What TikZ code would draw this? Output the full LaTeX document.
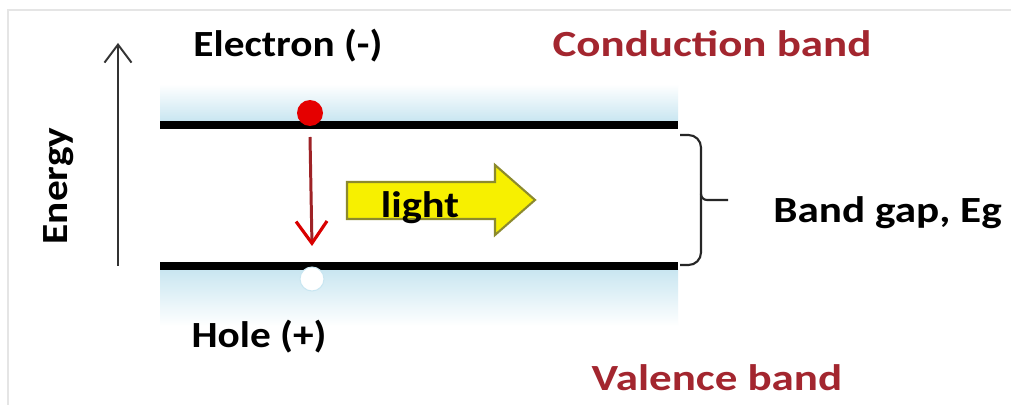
\documentclass[tikz,border=0pt]{standalone}
\usepackage{fontspec}
\setmainfont{Carlito}
\usetikzlibrary{calc,arrows.meta}
\definecolor{bandred}{HTML}{A3262F}
\definecolor{glowblue}{HTML}{C9E6F1}
\definecolor{lightyellow}{HTML}{F7F000}
\definecolor{lightedge}{HTML}{8C8A2E}
\definecolor{dropred}{HTML}{9E2226}
\tikzset{
  bandtext/.style={font=\bfseries\fontsize{21}{25}\selectfont, inner sep=0pt, anchor=base},
  bandline/.style={line width=5pt, black},
  dropline/.style={line width=1.7pt, dropred, -{Straight Barb[length=4.4mm, width=6.2mm, line width=1.8pt, color=red!85!black]}},
  energyline/.style={line width=1.1pt, black!80, -{Straight Barb[length=3.6mm, width=5.4mm, line width=1.1pt]}},
  braceline/.style={line width=1.2pt, black!85},
}

\begin{document}
\begin{tikzpicture}[x=0.02cm, y=-0.02cm]
			%%%%% START %%%%%
			\useasboundingbox (0, 0) rectangle (1011, 405);
			\fill[white] (0, 0) rectangle (1011, 405);
			\draw[black!10, line width=0.8pt] (8, 405) -- (8, 10) -- (1011, 10);
			
			% glow of the two bands
			\shade[top color=white, bottom color=glowblue] (160, 84) rectangle (678, 121);
			\shade[top color=glowblue, bottom color=white] (160, 270) rectangle (678, 326);
			
			% the two bands
			\coordinate (cbL) at (160, 125);
			\coordinate (cbR) at (678, 125);
			\coordinate (vbL) at (160, 266);
			\coordinate (vbR) at (678, 266);
			\draw[bandline] (cbL) -- (cbR);
			\draw[bandline] (vbL) -- (vbR);
			
			% energy axis
			\coordinate (eLow) at (118, 266);
			\coordinate (eHigh) at (118, 43);
			\draw[energyline] (eLow) -- (eHigh);
			\node[bandtext, rotate=90, xscale=1.12] (energy) at (67, 186) {Energy};
			
			% electron and hole
			\fill[red!90!black] (310, 113) circle [radius=0.26cm];
			\coordinate (electron) at (310, 113);
			\filldraw[fill=white, draw=glowblue, line width=0.6pt] (312, 279) circle [radius=0.24cm];
			\coordinate (hole) at (312, 279);
			\draw[dropline] ($(electron)+(0, 24)$) -- ($(hole)+(0, -33)$);
			
			% light
			\draw[fill=lightyellow, draw=lightedge, line width=1.2pt]
				(347, 182) -- (495, 182) -- (495, 165) -- (535, 200) -- (495, 235) -- (495, 219) -- (347, 219) -- cycle;
			\node[bandtext, xscale=1.15] (light) at (420, 218) {light};
			
			% band gap brace
			\coordinate (gapTop) at (680, 135);
			\coordinate (gapMid) at (701, 200);
			\coordinate (gapBot) at (680, 265);
			\coordinate (gapTip) at (728, 200);
			\draw[braceline, rounded corners=2.5mm] (gapTop) -- (701, 135) -- (gapMid) -- (701, 265) -- (gapBot);
			\draw[braceline, rounded corners=1.2mm] (701, 194) -- (gapMid) -- (gapTip);
			\node[bandtext, anchor=base west, xscale=1.17] (gap) at (773, 223) {Band gap, Eg};
			
			% labels
			\node[bandtext, xscale=1.12] (elab) at (288, 57) {Electron (-)};
			\node[bandtext, xscale=1.12] (hlab) at (259, 347) {Hole (+)};
			\node[bandtext, bandred, xscale=1.22] (clab) at (712, 57) {Conduction band};
			\node[bandtext, bandred, xscale=1.22] (vlab) at (717, 390) {Valence band};
			
			%%%%% END %%%%%
		\end{tikzpicture}
\end{document}
